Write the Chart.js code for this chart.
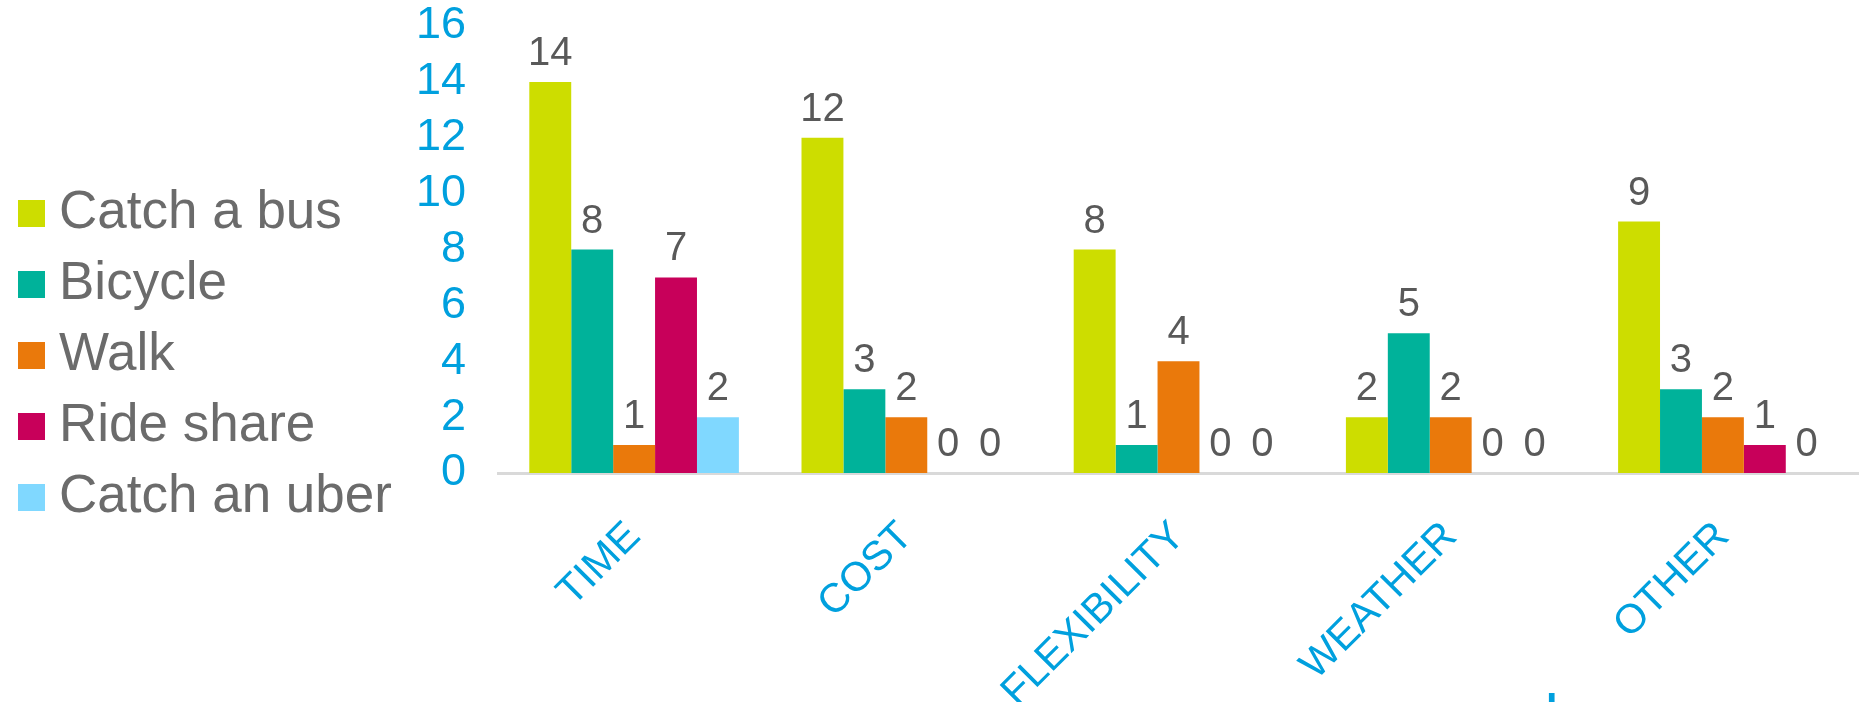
<!DOCTYPE html>
<html>
<head>
<meta charset="utf-8">
<script src="https://cdn.jsdelivr.net/npm/chart.js@4.4.1/dist/chart.umd.min.js"></script>
<style>
  html, body { margin: 0; padding: 0; background: #ffffff; }
  #wrap { width: 1859px; height: 702px; position: relative; }
</style>
</head>
<body>
<div id="wrap"><canvas id="reasonsChart"></canvas></div>
<script>
// categories on the x axis
const categories = ['TIME', 'COST', 'FLEXIBILITY', 'WEATHER', 'OTHER'];

// one array per series, same order as categories
const busValues = [14, 12, 8, 2, 9];
const bicycleValues = [8, 3, 1, 5, 3];
const walkValues = [1, 2, 4, 2, 2];
const rideShareValues = [7, 0, 0, 0, 1];
const uberValues = [2, 0, 0, 0, 0];

// y axis range
const yMin = 0;
const yMax = 16;
const yStep = 2;

const FONT = '"Liberation Sans", Arial, sans-serif';
const BLUE = 'rgb(0, 160, 222)';

//Draws the value above each bar
const valueLabels = {
    id: 'valueLabels',
    afterDatasetsDraw(chart) {
        const ctx = chart.ctx;
        ctx.save();
        ctx.font = '40px ' + FONT;
        ctx.fillStyle = '#595959';
        ctx.textAlign = 'center';
        ctx.textBaseline = 'alphabetic';
        chart.data.datasets.forEach((dataset, i) => {
            chart.getDatasetMeta(i).data.forEach((bar, j) => {
                ctx.fillText(dataset.data[j], bar.x, bar.y - 17);
            });
        });
        ctx.restore();
    }
};

//Legend on the left, drawn from the datasets
const sideLegend = {
    id: 'sideLegend',
    afterDraw(chart) {
        const ctx = chart.ctx;
        const datasets = chart.data.datasets;
        const rowGap = 71;
        const midY = chart.height / 2 + 4;
        ctx.save();
        ctx.font = '53px ' + FONT;
        ctx.textAlign = 'left';
        ctx.textBaseline = 'middle';
        datasets.forEach((dataset, i) => {
            const cy = midY + (i - (datasets.length - 1) / 2) * rowGap;
            ctx.fillStyle = dataset.backgroundColor;
            ctx.fillRect(18, cy - 13, 27, 27);
            ctx.fillStyle = '#6b6b6b';
            ctx.fillText(dataset.label, 59, cy);
        });
        //top of the slide text that is cut off under the chart
        ctx.font = '64px ' + FONT;
        ctx.fillStyle = BLUE;
        ctx.textBaseline = 'alphabetic';
        ctx.fillText('ead', 1452, chart.height + 38);
        ctx.restore();
    }
};

const reasonsData = {
    labels: categories,
    datasets: [{
        label: 'Catch a bus',
        backgroundColor: 'rgb(205, 221, 0)',
        data: busValues
    },
    {
        label: 'Bicycle',
        backgroundColor: 'rgb(0, 178, 154)',
        data: bicycleValues
    },
    {
        label: 'Walk',
        backgroundColor: 'rgb(234, 121, 11)',
        data: walkValues
    },
    {
        label: 'Ride share',
        backgroundColor: 'rgb(200, 0, 90)',
        data: rideShareValues
    },
    {
        label: 'Catch an uber',
        backgroundColor: 'rgb(128, 216, 255)',
        data: uberValues
    }]
};

const reasonsConfig = {
    type: 'bar',
    data: reasonsData,
    options: {
        responsive: true,
        maintainAspectRatio: false,
        animation: false,
        devicePixelRatio: 1,
        layout: {
            padding: { left: 418, top: 26, right: 0, bottom: 0 }
        },
        datasets: {
            bar: { barPercentage: 1, categoryPercentage: 0.77 }
        },
        plugins: {
            legend: { display: false },
            tooltip: { enabled: false }
        },
        scales: {
            x: {
                grid: { display: false, drawTicks: false },
                border: { display: true, color: '#d9d9d9', width: 3 },
                ticks: {
                    color: BLUE,
                    font: { family: FONT, size: 41, lineHeight: 0.55 },
                    minRotation: 45,
                    maxRotation: 45,
                    autoSkip: false,
                    padding: 49
                },
                afterFit: (scale) => { scale.height = 229; }
            },
            y: {
                min: yMin,
                max: yMax,
                grid: { display: false, drawTicks: false },
                border: { display: false },
                ticks: {
                    stepSize: yStep,
                    autoSkip: false,
                    color: BLUE,
                    font: { family: FONT, size: 45 },
                    padding: 32
                },
                afterFit: (scale) => {
                    scale.width = 80;
                    scale.paddingTop = 0;
                    scale.paddingBottom = 0;
                }
            }
        }
    },
    plugins: [valueLabels, sideLegend]
};

var reasonsChart = new Chart(
    document.getElementById('reasonsChart'),
    reasonsConfig
);
</script>
</body>
</html>
